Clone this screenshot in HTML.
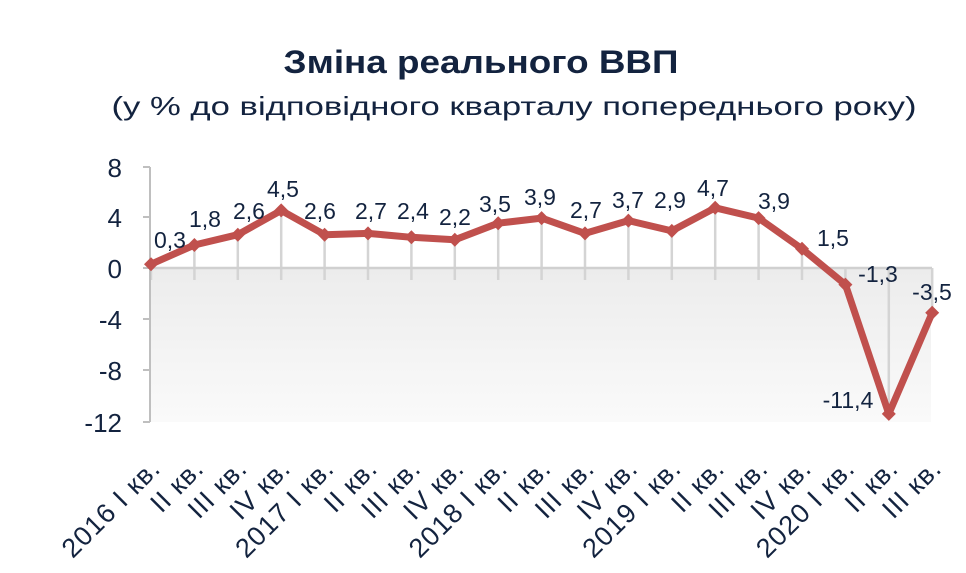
<!DOCTYPE html>
<html><head><meta charset="utf-8"><style>
body{margin:0;background:#fff;}
svg{display:block;font-family:"Liberation Sans",sans-serif;}
</style></head><body>
<svg width="966" height="573" viewBox="0 0 966 573" xmlns="http://www.w3.org/2000/svg">
<defs>
<linearGradient id="g" x1="0" y1="0" x2="0" y2="1">
<stop offset="0" stop-color="#ececec"/><stop offset="1" stop-color="#fafafa"/>
</linearGradient>
<polygon id="m" points="-7,0 0,-7 7,0 0,7" fill="#c0504d"/>
</defs>
<text x="481" y="73" text-anchor="middle" font-size="32" font-weight="bold" fill="#13233f" textLength="395" lengthAdjust="spacingAndGlyphs">Зміна реального ВВП</text>
<text x="514" y="115" text-anchor="middle" font-size="26" fill="#13233f" textLength="805" lengthAdjust="spacingAndGlyphs">(у % до відповідного кварталу попереднього року)</text>
<rect x="151" y="268" width="780" height="154" fill="url(#g)"/>
<g stroke="#d4d4d4" stroke-width="2.5">
<line x1="151" y1="264" x2="151" y2="280"/>
<line x1="194.4" y1="245" x2="194.4" y2="280"/>
<line x1="237.8" y1="235" x2="237.8" y2="280"/>
<line x1="281.2" y1="210" x2="281.2" y2="280"/>
<line x1="324.6" y1="235" x2="324.6" y2="280"/>
<line x1="368" y1="233" x2="368" y2="280"/>
<line x1="411.4" y1="237" x2="411.4" y2="280"/>
<line x1="454.8" y1="240" x2="454.8" y2="280"/>
<line x1="498.2" y1="223" x2="498.2" y2="280"/>
<line x1="541.6" y1="218" x2="541.6" y2="280"/>
<line x1="585" y1="233" x2="585" y2="280"/>
<line x1="628.4" y1="221" x2="628.4" y2="280"/>
<line x1="671.8" y1="231" x2="671.8" y2="280"/>
<line x1="715.2" y1="208" x2="715.2" y2="280"/>
<line x1="758.6" y1="218" x2="758.6" y2="280"/>
<line x1="802" y1="249" x2="802" y2="280"/>
<line x1="845.4" y1="268" x2="845.4" y2="285"/>
<line x1="888.8" y1="268" x2="888.8" y2="414"/>
<line x1="932.2" y1="268" x2="932.2" y2="313"/>
</g>
<line x1="150" y1="268" x2="932" y2="268" stroke="#d0d0d0" stroke-width="2.5"/>
<g stroke="#bfbfbf" stroke-width="2">
<line x1="150" y1="167" x2="150" y2="422"/>
<line x1="143" y1="167" x2="150" y2="167"/><line x1="143" y1="217" x2="150" y2="217"/><line x1="143" y1="268" x2="150" y2="268"/><line x1="143" y1="319" x2="150" y2="319"/><line x1="143" y1="370" x2="150" y2="370"/><line x1="143" y1="422" x2="150" y2="422"/>
</g>
<g font-size="26" fill="#13233f" text-anchor="end">
<text x="122" y="177">8</text><text x="122" y="227">4</text><text x="122" y="278">0</text><text x="122" y="329">-4</text><text x="122" y="380">-8</text><text x="122" y="432">-12</text>
</g>
<polyline fill="none" stroke="#c0504d" stroke-width="7" stroke-linejoin="round" points="151,264.2 194.4,245 237.8,234.7 281.2,210.4 324.6,234.7 368,233.4 411.4,237.3 454.8,239.8 498.2,223.2 541.6,218.1 585,233.4 628.4,220.6 671.8,230.9 715.2,207.8 758.6,218.1 802,248.8 845.4,284.6 888.8,413.9 932.2,312.8"/>
<use href="#m" x="151" y="264.2"/><use href="#m" x="194.4" y="245"/><use href="#m" x="237.8" y="234.7"/><use href="#m" x="281.2" y="210.4"/><use href="#m" x="324.6" y="234.7"/><use href="#m" x="368" y="233.4"/><use href="#m" x="411.4" y="237.3"/><use href="#m" x="454.8" y="239.8"/><use href="#m" x="498.2" y="223.2"/><use href="#m" x="541.6" y="218.1"/><use href="#m" x="585" y="233.4"/><use href="#m" x="628.4" y="220.6"/><use href="#m" x="671.8" y="230.9"/><use href="#m" x="715.2" y="207.8"/><use href="#m" x="758.6" y="218.1"/><use href="#m" x="802" y="248.8"/><use href="#m" x="845.4" y="284.6"/><use href="#m" x="888.8" y="413.9"/><use href="#m" x="932.2" y="312.8"/>
<g font-size="23" fill="#13233f" text-anchor="middle">
<text x="170" y="248">0,3</text><text x="205" y="227">1,8</text><text x="249" y="219">2,6</text><text x="283" y="197">4,5</text><text x="320" y="219">2,6</text><text x="371" y="219">2,7</text><text x="413" y="219">2,4</text><text x="455" y="225">2,2</text><text x="495" y="212">3,5</text><text x="540" y="205">3,9</text><text x="586" y="218">2,7</text><text x="628" y="208">3,7</text><text x="670" y="208">2,9</text><text x="713" y="196">4,7</text><text x="774" y="209">3,9</text><text x="833" y="246">1,5</text><text x="878" y="282">-1,3</text><text x="848" y="408">-11,4</text><text x="932" y="300">-3,5</text>
</g>
<g font-size="27" fill="#13233f" text-anchor="end" letter-spacing="1">
<text x="162" y="470" transform="rotate(-45 162 470)">2016 I кв.</text>
<text x="205.4" y="470" transform="rotate(-45 205.4 470)">II кв.</text>
<text x="248.8" y="470" transform="rotate(-45 248.8 470)">III кв.</text>
<text x="292.2" y="470" transform="rotate(-45 292.2 470)">IV кв.</text>
<text x="335.6" y="470" transform="rotate(-45 335.6 470)">2017 I кв.</text>
<text x="379" y="470" transform="rotate(-45 379 470)">II кв.</text>
<text x="422.4" y="470" transform="rotate(-45 422.4 470)">III кв.</text>
<text x="465.8" y="470" transform="rotate(-45 465.8 470)">IV кв.</text>
<text x="509.2" y="470" transform="rotate(-45 509.2 470)">2018 I кв.</text>
<text x="552.6" y="470" transform="rotate(-45 552.6 470)">II кв.</text>
<text x="596" y="470" transform="rotate(-45 596 470)">III кв.</text>
<text x="639.4" y="470" transform="rotate(-45 639.4 470)">IV кв.</text>
<text x="682.8" y="470" transform="rotate(-45 682.8 470)">2019 I кв.</text>
<text x="726.2" y="470" transform="rotate(-45 726.2 470)">II кв.</text>
<text x="769.6" y="470" transform="rotate(-45 769.6 470)">III кв.</text>
<text x="813" y="470" transform="rotate(-45 813 470)">IV кв.</text>
<text x="856.4" y="470" transform="rotate(-45 856.4 470)">2020 I кв.</text>
<text x="899.8" y="470" transform="rotate(-45 899.8 470)">II кв.</text>
<text x="943.2" y="470" transform="rotate(-45 943.2 470)">III кв.</text>
</g>
</svg>
</body></html>
